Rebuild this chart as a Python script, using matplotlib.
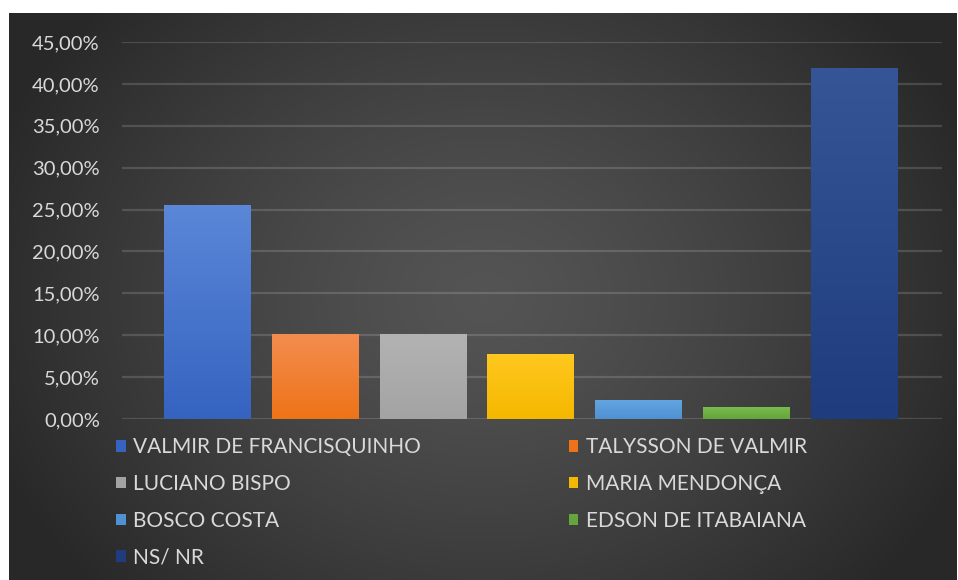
import matplotlib.pyplot as plt
import numpy as np
from matplotlib.colors import to_rgb
from matplotlib.patches import Rectangle
from matplotlib.ticker import FuncFormatter


CANDIDATES = [
    "VALMIR DE FRANCISQUINHO",
    "TALYSSON DE VALMIR",
    "LUCIANO BISPO",
    "MARIA MENDONÇA",
    "BOSCO COSTA",
    "EDSON DE ITABAIANA",
    "NS/ NR",
]
PERCENTS = [25.5, 10.2, 10.2, 7.8, 2.3, 1.4, 41.9]
TOP_COLORS = ["#5b87d8", "#f38d4f", "#b3b3b3", "#ffc81f", "#64a6e2", "#79bb4c", "#355596"]
BOTTOM_COLORS = ["#3563c0", "#ee7318", "#a3a3a3", "#f5b800", "#4f91d2", "#64a53c", "#1f3d7e"]
Y_TICKS = [0, 5, 10, 15, 20, 25, 30, 35, 40, 45]

FONT = ["Lato", "DejaVu Sans"]
TEXT_COLOR = "#d9d9d9"


def radial_background(fig):
    bg = fig.add_axes([9 / 958, 0, 948 / 958, 567 / 580], zorder=-10)
    h, w = 300, 500
    yy, xx = np.mgrid[0:h, 0:w]
    r = np.sqrt(((xx - w * 0.5) / (w * 0.55)) ** 2 + ((yy - h * 0.5) / (h * 0.75)) ** 2)
    r = np.clip(r, 0, 1)
    shade = 0.33 - 0.17 * r ** 1.3
    img = np.dstack([shade, shade, shade])
    bg.imshow(img, aspect="auto", extent=[0, 1, 0, 1], interpolation="bilinear")
    bg.set_axis_off()


def gradient_bars(ax, bars):
    for bar, top, bottom in zip(bars, TOP_COLORS, BOTTOM_COLORS):
        t = np.array(to_rgb(top))
        b = np.array(to_rgb(bottom))
        steps = np.linspace(0, 1, 64)[:, None]
        grad = (t * (1 - steps) + b * steps)[:, None, :]
        x0, y0 = bar.get_x(), bar.get_y()
        im = ax.imshow(
            grad,
            extent=[x0, x0 + bar.get_width(), y0, y0 + bar.get_height()],
            aspect="auto",
            interpolation="bilinear",
            zorder=3,
        )
        im.set_clip_path(bar)


def main():
    fig = plt.figure(figsize=(9.58, 5.8), dpi=100, facecolor="white")
    radial_background(fig)

    ax = fig.add_axes([122 / 958, 1 - 419 / 580, 820 / 958, 377 / 580])
    ax.set_facecolor("none")

    x = np.arange(len(CANDIDATES))
    values = np.array(PERCENTS) / 100
    bars = ax.bar(x, values, width=0.8, color=BOTTOM_COLORS, zorder=2, linewidth=0)
    gradient_bars(ax, bars)

    ax.set_xlim(-0.79, 6.82)
    ax.set_ylim(0, 0.45)
    ax.set_yticks(np.array(Y_TICKS) / 100)
    ax.yaxis.set_major_formatter(
        FuncFormatter(lambda v, _: f"{v * 100:.2f}%".replace(".", ","))
    )
    ax.grid(axis="y", color="#ffffff", alpha=0.15, linewidth=1.6, zorder=1)
    ax.set_xticks([])
    ax.tick_params(axis="y", length=0, pad=16, labelsize=14.5, labelcolor=TEXT_COLOR)
    for label in ax.get_yticklabels():
        label.set_family(FONT)
    for spine in ax.spines.values():
        spine.set_visible(False)

    handles = [
        Rectangle((0, 0), 1, 1, facecolor=c, edgecolor="none") for c in BOTTOM_COLORS
    ]
    order = [0, 2, 4, 6, 1, 3, 5]
    fig.legend(
        [handles[i] for i in order],
        [CANDIDATES[i] for i in order],
        ncol=2,
        loc="upper left",
        bbox_to_anchor=(106 / 958, 1 - 427 / 580),
        frameon=False,
        prop={"family": FONT, "size": 15},
        labelcolor=TEXT_COLOR,
        handlelength=0.45,
        handleheight=0.45,
        handletextpad=0.35,
        columnspacing=7.1,
        labelspacing=0.8,
        borderpad=0,
    )

    fig.savefig("out.png", dpi=100, facecolor="white")


if __name__ == "__main__":
    main()
